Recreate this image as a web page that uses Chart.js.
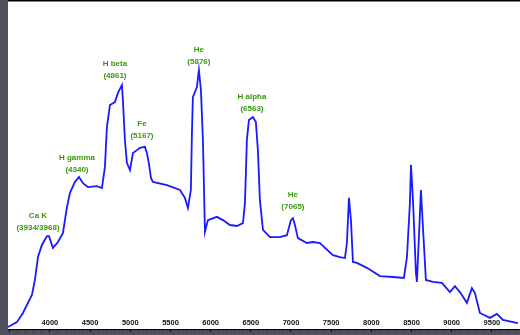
<!DOCTYPE html>
<html>
<head>
<meta charset="utf-8">
<script src="https://cdn.jsdelivr.net/npm/chart.js@4/dist/chart.umd.min.js"></script>
<style>
  html, body { margin: 0; padding: 0; background: #4f505c; }
  canvas { display: block; }
</style>
</head>
<body>
<canvas id="spectrum" width="520" height="335"></canvas>
<script>
// Spectrum data (wavelength in Angstrom, relative flux)
const wavelength = [3477, 3589, 3664, 3776, 3813, 3851, 3900, 3963, 3988, 4037, 4100, 4162, 4212, 4249, 4311, 4361,
  4411, 4473, 4585, 4647, 4684, 4709, 4747, 4809, 4846, 4896, 4908, 4933, 4958, 4996, 5033, 5083, 5120, 5182,
  5207, 5232, 5257, 5282, 5456, 5618, 5680, 5717, 5754, 5767, 5779, 5829, 5854, 5879, 5904, 5929, 5966, 6078,
  6153, 6240, 6327, 6402, 6427, 6451, 6476, 6526, 6563, 6588, 6613, 6651, 6738, 6862, 6949, 6999, 7024, 7049,
  7086, 7198, 7273, 7360, 7522, 7609, 7671, 7696, 7721, 7746, 7771, 7820, 7945, 8107, 8268, 8405, 8443, 8480,
  8493, 8518, 8555, 8567, 8592, 8617, 8642, 8679, 8766, 8878, 8978, 9040, 9102, 9189, 9251, 9289, 9351, 9476,
  9563, 9637, 9824];
const flux = [0.6, 2.1, 4.9, 10.4, 15.0, 22.0, 25.7, 28.4, 28.4, 24.8, 26.6, 29.4, 37.3, 41.6, 45.0, 46.5,
  44.6, 43.4, 43.7, 43.1, 49.5, 61.8, 68.5, 69.4, 72.2, 74.6, 70.0, 57.8, 50.8, 48.6, 53.8, 54.7, 55.4, 55.7,
  53.8, 50.5, 46.2, 45.0, 44.0, 42.5, 40.1, 37.0, 42.5, 59.9, 70.9, 74.0, 79.2, 73.1, 57.8, 29.7, 33.3, 34.3,
  33.3, 31.8, 31.5, 32.4, 38.5, 57.8, 63.9, 64.8, 63.3, 54.7, 39.4, 30.3, 28.1, 28.1, 28.7, 33.3, 33.9, 31.8,
  27.8, 26.3, 26.6, 26.3, 22.6, 22.0, 21.7, 26.3, 40.1, 33.3, 20.5, 20.2, 18.7, 16.2, 15.9, 15.6, 22.0, 38.5,
  50.2, 39.4, 17.1, 14.4, 28.1, 42.5, 31.2, 15.0, 14.4, 14.1, 11.3, 13.1, 11.3, 8.0, 12.5, 11.0, 4.9, 3.4,
  4.6, 2.8, 1.8];

// Axis tick labels
const tickLabels = [4000, 4500, 5000, 5500, 6000, 6500, 7000, 7500, 8000, 8500, 9000, 9500];

// Line identifications
const lineNames = ['Ca K', 'H gamma', 'H beta', 'Fe', 'He', 'H alpha', 'He'];
const lineWaves = ['(3934/3968)', '(4340)', '(4861)', '(5167)', '(5876)', '(6563)', '(7065)'];
const labelX = [3851, 4336, 4809, 5145, 5854, 6514, 7024];
const labelY = [30.9, 48.6, 77.4, 59.0, 81.7, 67.3, 37.3];

const frame = {
  id: 'frame',
  beforeDraw(chart) {
    const { ctx, chartArea: a, width, height } = chart;
    ctx.save();
    ctx.fillStyle = '#4f505c';
    ctx.fillRect(0, 0, width, height);
    ctx.fillStyle = '#ffffff';
    ctx.fillRect(a.left, 0, a.right - a.left, a.bottom);
    ctx.fillStyle = '#000000';
    ctx.fillRect(a.left, 0, a.right - a.left, 1.5);
    ctx.restore();
  },
  afterDraw(chart) {
    const { ctx, chartArea: a } = chart;
    const x = chart.scales.x, y = chart.scales.y;
    ctx.save();
    ctx.textAlign = 'center';
    ctx.textBaseline = 'middle';
    ctx.font = 'bold 7.5px "Liberation Sans", Arial, sans-serif';
    ctx.fillStyle = '#111111';
    tickLabels.forEach(v => ctx.fillText(String(v), x.getPixelForValue(v), a.bottom - 6.5));

    ctx.font = 'bold 8px "Liberation Sans", Arial, sans-serif';
    ctx.fillStyle = '#38990c';
    lineNames.forEach((name, i) => {
      const px = x.getPixelForValue(labelX[i]);
      const py = y.getPixelForValue(labelY[i]);
      ctx.fillText(name, px, py - 12);
      ctx.fillText(lineWaves[i], px, py);
    });
    ctx.restore();
  }
};

new Chart(document.getElementById('spectrum'), {
  type: 'line',
  data: {
    datasets: [{
      data: wavelength.map((w, i) => ({ x: w, y: flux[i] })),
      borderColor: '#1a1aff',
      borderWidth: 1.8,
      pointRadius: 0,
      tension: 0,
      fill: false
    }]
  },
  options: {
    responsive: false,
    devicePixelRatio: 1,
    animation: false,
    layout: { padding: { left: 8, top: 2, right: 0, bottom: 3 } },
    plugins: { legend: { display: false }, tooltip: { enabled: false } },
    scales: {
      x: {
        type: 'linear',
        min: 3478,
        max: 9850,
        ticks: { display: false, stepSize: 100, includeBounds: false },
        grid: {
          drawOnChartArea: false,
          tickLength: 3,
          color: ctx => (ctx.tick && ctx.tick.value % 500 === 0) ? '#000000' : '#333333'
        },
        border: { color: '#000000', width: 1 }
      },
      y: { display: false, min: 0, max: 100 }
    }
  },
  plugins: [frame]
});
</script>
</body>
</html>
